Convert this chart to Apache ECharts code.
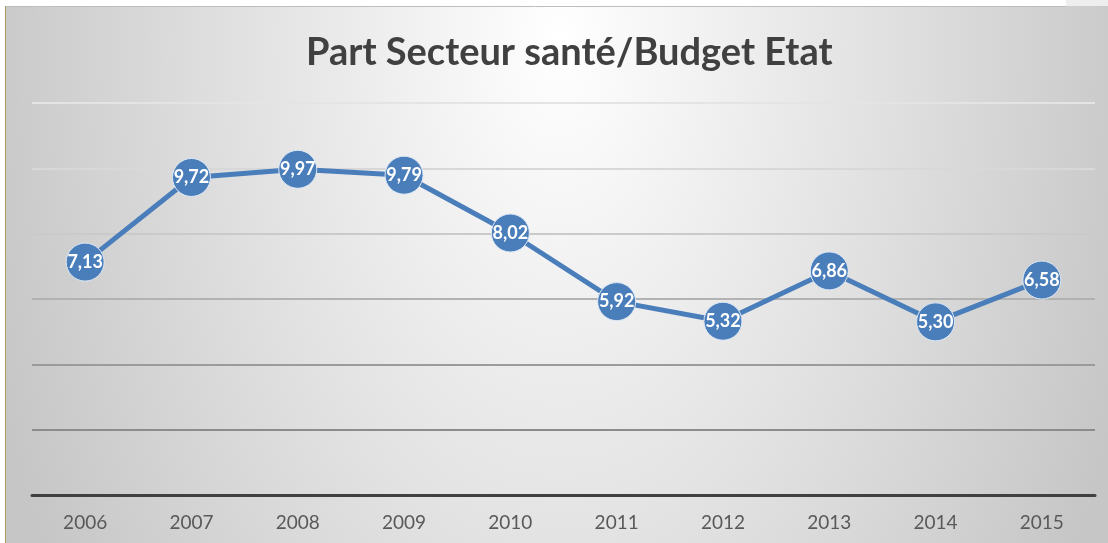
<!DOCTYPE html>
<html>
<head>
<meta charset="utf-8">
<title>Part Secteur santé/Budget Etat</title>
<script src="https://cdn.jsdelivr.net/npm/echarts@6/dist/echarts.min.js"></script>
<style>
  html, body { margin: 0; padding: 0; background: #ffffff; }
  #chart { width: 1108px; height: 543px; }
</style>
</head>
<body>
<div id="chart"></div>
<script>
// Share of the health sector in the State budget (%)
const years = ['2006', '2007', '2008', '2009', '2010', '2011', '2012', '2013', '2014', '2015'];
const shares = [7.13, 9.72, 9.97, 9.79, 8.02, 5.92, 5.32, 6.86, 5.30, 6.58];
const chartTitle = 'Part Secteur santé/Budget Etat';

const chart = echarts.init(document.getElementById('chart'), null, { renderer: 'canvas' });

// elliptical soft-grey backdrop: Ry / Rx = 1000 / 600
const bgScaleY = 1000 / 600;
const bgTop = 6, bgLeft = 5, W = 1108, H = 543;
const bgLocalH = (H - bgTop) / bgScaleY;

const option = {
  backgroundColor: '#ffffff',
  animation: false,
  graphic: [
    {
      type: 'rect',
      z: -10,
      silent: true,
      scaleY: bgScaleY,
      shape: { x: bgLeft, y: bgTop / bgScaleY, width: W - bgLeft, height: bgLocalH },
      style: {
        fill: {
          type: 'radial',
          x: (560 - bgLeft) / (W - bgLeft),
          y: (40 / bgScaleY - bgTop / bgScaleY) / bgLocalH,
          r: 600 / bgLocalH,
          colorStops: [
            { offset: 0, color: '#ffffff' },
            { offset: 0.5, color: '#e3e3e3' },
            { offset: 1, color: '#c6c6c6' }
          ]
        }
      }
    },
    {
      type: 'rect', z: -9, silent: true,
      shape: { x: 1066, y: 0, width: W - 1066, height: bgTop },
      style: { fill: '#eeeeee' }
    },
    {
      type: 'line', z: -8, silent: true,
      shape: { x1: bgLeft, y1: bgTop + 0.5, x2: 1066, y2: bgTop + 0.5 },
      style: { stroke: '#bdbdbd', lineWidth: 1 }
    },
    {
      type: 'line', z: -8, silent: true,
      shape: { x1: bgLeft + 0.5, y1: bgTop, x2: bgLeft + 0.5, y2: H },
      style: { stroke: '#ab9d62', lineWidth: 1 }
    }
  ],
  title: {
    text: chartTitle,
    left: 301,
    top: 29,
    textStyle: {
      fontFamily: 'Lato',
      fontWeight: 'bold',
      fontSize: 38,
      color: '#404040'
    }
  },
  grid: { left: 32, right: 13, top: 103, bottom: 48, containLabel: false },
  xAxis: {
    type: 'category',
    data: years,
    boundaryGap: true,
    axisLine: { show: true, lineStyle: { color: '#404040', width: 3 } },
    axisTick: { show: false },
    axisLabel: {
      margin: 18,
      fontFamily: 'Lato',
      fontSize: 19,
      color: '#595959'
    },
    splitLine: { show: false }
  },
  yAxis: {
    type: 'value',
    min: 0,
    max: 12,
    interval: 2,
    axisLine: { show: false },
    axisTick: { show: false },
    axisLabel: { show: false },
    splitLine: {
      show: true,
      lineStyle: {
        width: 2,
        color: ['#404040', '#8c8c8c', '#9b9b9b', '#b2b2b2', '#cacaca', '#d8d8d8', '#e4e4e4']
      }
    }
  },
  series: [
    {
      type: 'line',
      data: shares,
      symbol: 'circle',
      symbolSize: 38,
      lineStyle: { color: '#4a7ebb', width: 5 },
      itemStyle: { color: '#4a7ebb', borderColor: '#dfe9f6', borderWidth: 1 },
      label: {
        show: true,
        position: 'inside',
        formatter: p => p.value.toFixed(2).replace('.', ','),
        fontFamily: 'Lato',
        fontWeight: 'bold',
        fontSize: 18,
        color: '#ffffff'
      },
      z: 3
    }
  ]
};

chart.setOption(option);
</script>
</body>
</html>
